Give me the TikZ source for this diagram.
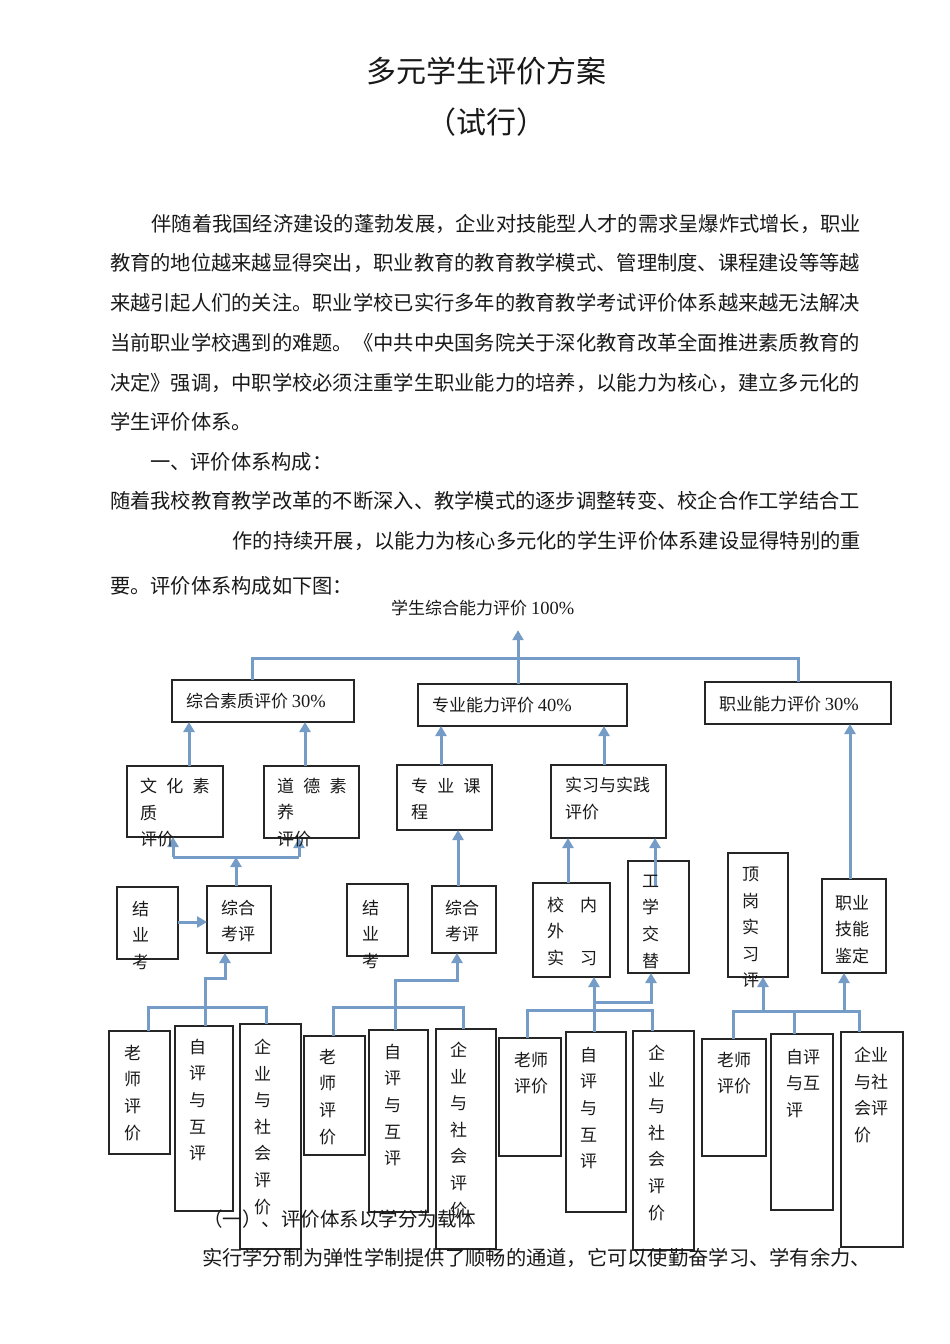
\documentclass[tikz,border=0pt]{standalone}
\usepackage{fontspec}
\setmainfont{Noto Sans CJK SC}
\newfontfamily\lat{Liberation Serif}
\usetikzlibrary{arrows.meta}
\definecolor{conn}{RGB}{116,156,198}
\newcommand{\gp}{\hspace{0.55em}}
\newcommand{\gq}{\hspace{0.95em}}
\newcommand{\bxn}[5]{\node[bx, minimum width={(#4-(#2))*1pt}, minimum height={(#5-(#3))*1pt}] (#1) at (#2,#3) {};}
\newcommand{\pct}[1]{{\fontsize{18.5}{18.5}\lat #1\%}}
\tikzset{
  bx/.style={draw=black!85, line width=1.4pt, inner sep=0pt, outer sep=0pt, anchor=north west},
  ln/.style={conn, line width=3pt},
  arr/.style={conn, line width=3pt, -{Triangle[width=11pt,length=10pt]}},
  txt/.style={inner sep=0pt, outer sep=0pt, anchor=north west, align=left, font=\fontsize{17}{26.6}\selectfont, text=black!90},
  para/.style={inner sep=0pt, outer sep=0pt, anchor=west, font=\fontsize{20.27}{20.27}\selectfont, text=black!90},
  ttl/.style={inner sep=0pt, outer sep=0pt, font=\fontsize{30}{30}\selectfont, text=black!90},
}
\begin{document}
\begin{tikzpicture}[x=1pt,y=-1pt]
\useasboundingbox[fill=white] (0,0) rectangle (950,1344);

% ---- heading and paragraphs
\node[ttl] (title) at (486,71) {多元学生评价方案};
\node[ttl] (sub) at (486,122) {（试行）};

\node[para, anchor=east] (p1) at (861,224) {伴随着我国经济建设的蓬勃发展，企业对技能型人才的需求呈爆炸式增长，职业};
\node[para] (p2) at (110,263) {教育的地位越来越显得突出，职业教育的教育教学模式、管理制度、课程建设等等越};
\node[para] (p3) at (110,303) {来越引起人们的关注。职业学校已实行多年的教育教学考试评价体系越来越无法解决};
\node[para] (p4) at (110,343) {当前职业学校遇到的难题。《中共中央国务院关于深化教育改革全面推进素质教育的};
\node[para] (p5) at (110,383) {决定》强调，中职学校必须注重学生职业能力的培养，以能力为核心，建立多元化的};
\node[para] (p6) at (110,422) {学生评价体系。};
\node[para] (p7) at (150,462) {一、评价体系构成：};
\node[para] (p8) at (110,501) {随着我校教育教学改革的不断深入、教学模式的逐步调整转变、校企合作工学结合工};
\node[para, anchor=east] (p9) at (861,541) {作的持续开展，以能力为核心多元化的学生评价体系建设显得特别的重};
\node[para] (p10) at (110,586) {要。评价体系构成如下图：};

\node[inner sep=0pt, anchor=west, font=\fontsize{17}{17}\selectfont, text=black!90] (top) at (391,608) {学生综合能力评价 \pct{100}};

% ---- boxes
\bxn{zh}{172}{680}{354}{722}
\bxn{zy}{418}{684}{627}{726}
\bxn{zhiye}{705}{682}{891}{724}

\bxn{wh}{127}{766}{223}{837}
\bxn{dd}{264}{766}{359}{838}
\bxn{zk}{397}{765}{492}{830}
\bxn{sx}{551}{765}{666}{838}

\bxn{jy1}{117}{887}{178}{959}
\bxn{zp1}{207}{886}{271}{953}
\bxn{jy2}{347}{884}{408}{956}
\bxn{zp2}{432}{886}{496}{953}
\bxn{xw}{533}{883}{610}{977}
\bxn{gx}{628}{861}{689}{973}
\bxn{dg}{728}{853}{788}{977}
\bxn{jn}{822}{879}{886}{973}

\bxn{ls1}{109}{1031}{170}{1154}
\bxn{zpa}{175}{1026}{233}{1211}
\bxn{qy1}{240}{1024}{301}{1249}
\bxn{ls2}{304}{1036}{365}{1155}
\bxn{zpb}{369}{1030}{428}{1212}
\bxn{qy2}{436}{1029}{496}{1249}
\bxn{ls3}{499}{1038}{561}{1156}
\bxn{zpc}{566}{1032}{626}{1212}
\bxn{qy3}{633}{1031}{694}{1250}
\bxn{ls4}{702}{1039}{766}{1156}
\bxn{zpd}{771}{1034}{833}{1210}
\bxn{qy4}{841}{1032}{903}{1247}

% ---- connectors
\draw[arr, shorten >=14pt] (zy.north -| 518,0) -- (top.south -| 518,0);
\draw[ln] (zh.north -| 252,0) -- (252,658) -- (798,658) -- (zhiye.north -| 798,0);

\draw[arr] (wh.north -| 189,0) -- (zh.south -| 189,0);
\draw[arr] (dd.north -| 305,0) -- (zh.south -| 305,0);
\draw[arr] (zk.north -| 441,0) -- (zy.south -| 441,0);
\draw[arr] (sx.north -| 604,0) -- (zy.south -| 604,0);
\draw[arr] (jn.north -| 850,0) -- (zhiye.south -| 850,0);

\draw[arr] (zp1.north -| 236,0) -- (236,857);
\draw[ln] (173,857) -- (299,857);
\draw[arr] (173,857) -- (wh.south -| 173,0);
\draw[arr] (299,857) -- (dd.south -| 299,0);
\draw[arr] (jy1.east |- 0,922) -- (zp1.west |- 0,922);
\draw[arr] (zp2.north -| 458,0) -- (zk.south -| 458,0);
\draw[arr] (xw.north -| 568,0) -- (sx.south -| 568,0);
\draw[arr] ([yshift=-25pt]gx.north -| 655,0) -- (sx.south -| 655,0);

\draw[ln] (ls1.north -| 148,0) -- (148,1007) -- (266,1007) -- (qy1.north -| 266,0);
\draw[arr] (zpa.north -| 205,0) -- (205,978) -- (225,978) -- (zp1.south -| 225,0);

\draw[ln] (ls2.north -| 333,0) -- (333,1007) -- (463,1007) -- (qy2.north -| 463,0);
\draw[arr] (zpb.north -| 395,0) -- (395,980) -- (457,980) -- (zp2.south -| 457,0);

\draw[ln] (ls3.north -| 527,0) -- (527,1010) -- (652,1010) -- (qy3.north -| 652,0);
\draw[arr] (zpc.north -| 594,0) -- (xw.south -| 594,0);
\draw[arr] (594,1002) -- (651,1002) -- (gx.south -| 651,0);

\draw[ln] (ls4.north -| 733,0) -- (733,1011) -- (859,1011) -- (qy4.north -| 859,0);
\draw[ln] (zpd.north -| 794,0) -- (794,1011);
\draw[arr] (763,1011) -- (dg.south -| 763,0);
\draw[arr] (844,1011) -- (jn.south -| 844,0);

% ---- box texts
\node[txt, anchor=west] (tzh) at (186,701) {综合素质评价 \pct{30}};
\node[txt, anchor=west] (tzy) at (432,705) {专业能力评价 \pct{40}};
\node[txt, anchor=west] (tzhiye) at (719,704) {职业能力评价 \pct{30}};

\node[txt] (twh) at (140,778) {文\gp{}化\gp{}素\\质\\评价};
\node[txt] (tdd) at (277,778) {道\gp{}德\gp{}素\\养\\评价};
\node[txt] (tzk) at (411,778) {专\gp{}业\gp{}课\\程};
\node[txt] (tsx) at (565,777) {实习与实践\\评价};

\node[txt] (tjy1) at (132,901) {结\\业\\考};
\node[txt] (tzp1) at (221,900) {综合\\考评};
\node[txt] (tjy2) at (362,900) {结\\业\\考};
\node[txt] (tzp2) at (445,900) {综合\\考评};
\node[txt] (txw) at (547,897) {校\gq{}内\\外\\实\gq{}习};
\node[txt] (tgx) at (642,875) {工\\学\\交\\替};
\node[txt] (tdg) at (742,867) {顶\\岗\\实\\习\\评};
\node[txt] (tjn) at (835,895) {职业\\技能\\鉴定};

\node[txt] (tls1) at (124,1045) {老\\师\\评\\价};
\node[txt] (tzpa) at (189,1039) {自\\评\\与\\互\\评};
\node[txt] (tqy1) at (254,1039) {企\\业\\与\\社\\会\\评\\价};
\node[txt] (tls2) at (319,1049) {老\\师\\评\\价};
\node[txt] (tzpb) at (384,1044) {自\\评\\与\\互\\评};
\node[txt] (tqy2) at (450,1042) {企\\业\\与\\社\\会\\评\\价};
\node[txt] (tls3) at (514,1052) {老师\\评价};
\node[txt] (tzpc) at (580,1047) {自\\评\\与\\互\\评};
\node[txt] (tqy3) at (648,1045) {企\\业\\与\\社\\会\\评\\价};
\node[txt] (tls4) at (717,1052) {老师\\评价};
\node[txt] (tzpd) at (786,1049) {自评\\与互\\评};
\node[txt] (tqy4) at (854,1047) {企业\\与社\\会评\\价};

% ---- text below the chart
\node[para, font=\fontsize{19.5}{19.5}\selectfont] (h1) at (203,1219) {（一）、评价体系以学分为载体};
\node[para] (p11) at (202,1258) {实行学分制为弹性学制提供了顺畅的通道，它可以使勤奋学习、学有余力、};
\end{tikzpicture}
\end{document}
